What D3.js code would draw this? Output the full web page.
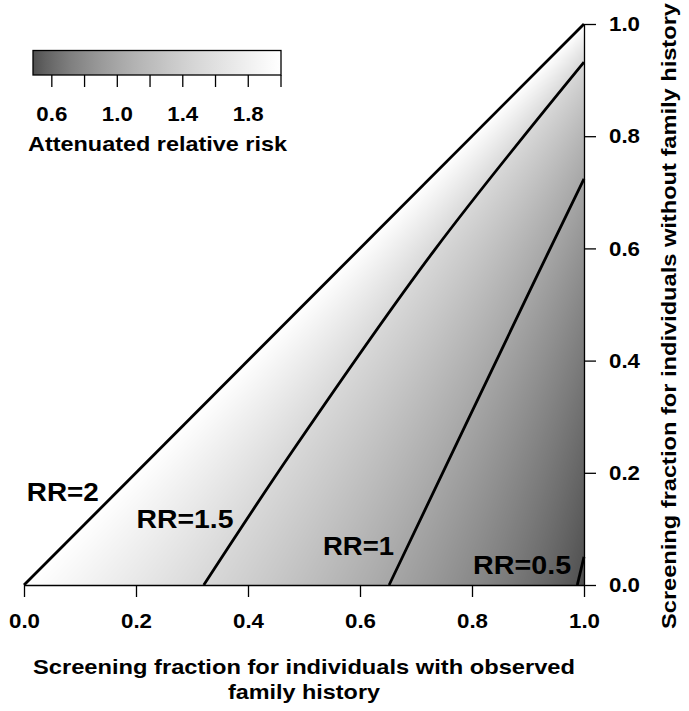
<!DOCTYPE html>
<html>
<head>
<meta charset="utf-8">
<script src="https://cdn.jsdelivr.net/npm/d3@7"></script>
<style>
  body { margin: 0; background: #fff; }
  text { font-family: "Liberation Sans", Arial, sans-serif; font-weight: bold; fill: #000; }
</style>
</head>
<body>
<svg id="chart"></svg>
<script>
const svgWidth = 689;
const svgHeight = 711;

// contour levels and the lines (x = with FH, y = without FH)
const contourLevels = [2, 1.5, 1, 0.5];
const contourRR2 = [[0, 0], [1, 1]];
const contourRR15 = [[0.321, 0], [0.481, 0.241], [0.733, 0.597], [1, 0.932]];
const contourRR1 = [[0.652, 0], [0.904, 0.526], [1, 0.724]];
const contourRR05 = [[0.988, 0], [1, 0.05]];
const contourLines = [contourRR2, contourRR15, contourRR1, contourRR05];

const rrLabels = ["RR=2", "RR=1.5", "RR=1", "RR=0.5"];
const rrLabelPos = [[0.005, 0.150], [0.201, 0.101], [0.534, 0.0535], [0.802, 0.0196]];
const rrLabelWidth = [72, 97, 71, 98];

const xTicks = [0, 0.2, 0.4, 0.6, 0.8, 1.0];
const yTicks = [0, 0.2, 0.4, 0.6, 0.8, 1.0];
const colorDomain = [0.485, 2];
const legendTicks = [0.6, 0.8, 1.0, 1.2, 1.4, 1.6, 1.8, 2.0];
const legendLabels = [0.6, 1.0, 1.4, 1.8];

const xTitle = ["Screening fraction for individuals with observed", "family history"];
const yTitle = "Screening fraction for individuals without family history";
const legendTitle = "Attenuated relative risk";

const x = d3.scaleLinear().domain([0, 1]).range([24, 584]);
const y = d3.scaleLinear().domain([0, 1]).range([585, 24]);

const gray = d3.scaleLinear()
  .domain(colorDomain)
  .range(["#4f4f4f", "#ffffff"])
  .interpolate(d3.interpolateRgb.gamma(2.2))
  .clamp(true);

let svg = d3.select("#chart")
  .attr("width", svgWidth)
  .attr("height", svgHeight);

svg.append("rect").attr("width", svgWidth).attr("height", svgHeight).attr("fill", "#fff");

// x position of a contour line at height yy (linear between read points)
const xAt = function xAt(line, yy) {
  let i = 0;
  while (i < line.length - 2 && yy > line[i + 1][1]) i++;
  let a = line[i], b = line[i + 1];
  return a[0] + (b[0] - a[0]) * (yy - a[1]) / (b[1] - a[1]);
};

// value between neighbouring contour lines
const rrAt = function rrAt(xx, yy) {
  let xs = contourLines.map(c => xAt(c, yy));
  let i = 0;
  while (i < xs.length - 2 && xx > xs[i + 1]) i++;
  let t = (xx - xs[i]) / (xs[i + 1] - xs[i]);
  return contourLevels[i] + (contourLevels[i + 1] - contourLevels[i]) * t;
};

// shaded field
const fieldW = Math.round(x(1) - x(0));
const fieldH = Math.round(y(0) - y(1));
const canvas = document.createElement("canvas");
canvas.width = fieldW;
canvas.height = fieldH;
const ctx = canvas.getContext("2d");
const img = ctx.createImageData(fieldW, fieldH);
const lut = d3.range(1025).map(k => d3.color(gray(colorDomain[0] + (colorDomain[1] - colorDomain[0]) * k / 1024)));

for (let j = 0; j < fieldH; j++) {
  let yy = y.invert(y(1) + j + 0.5);
  for (let i = 0; i < fieldW; i++) {
    let xx = x.invert(x(0) + i + 0.5);
    let p = (j * fieldW + i) * 4;
    if (xx < yy) { img.data[p + 3] = 0; continue; }
    let v = rrAt(xx, yy);
    let k = Math.max(0, Math.min(1024, Math.round((v - colorDomain[0]) / (colorDomain[1] - colorDomain[0]) * 1024)));
    let c = lut[k];
    img.data[p] = c.r; img.data[p + 1] = c.g; img.data[p + 2] = c.b; img.data[p + 3] = 255;
  }
}
ctx.putImageData(img, 0, 0);

svg.append("image")
  .attr("x", x(0))
  .attr("y", y(1))
  .attr("width", fieldW)
  .attr("height", fieldH)
  .attr("preserveAspectRatio", "none")
  .attr("href", canvas.toDataURL());

// contour lines
const line = d3.line().x(d => x(d[0])).y(d => y(d[1])).curve(d3.curveCatmullRom);
svg.append("g")
  .selectAll("path")
  .data(contourLines)
  .join("path")
  .attr("d", line)
  .attr("fill", "none")
  .attr("stroke", "#000")
  .attr("stroke-width", 2.8)
  .attr("stroke-linejoin", "round");

// contour labels
svg.append("g")
  .selectAll("text")
  .data(rrLabels)
  .join("text")
  .attr("x", (d, i) => x(rrLabelPos[i][0]))
  .attr("y", (d, i) => y(rrLabelPos[i][1]))
  .attr("font-size", 26)
  .attr("textLength", (d, i) => rrLabelWidth[i])
  .attr("lengthAdjust", "spacingAndGlyphs")
  .text(d => d);

// axes
const xAxis = svg.append("g")
  .attr("transform", `translate(0,${y(0)})`)
  .call(d3.axisBottom(x).tickValues(xTicks).tickFormat(d3.format(".1f")).tickSize(12).tickSizeOuter(0).tickPadding(16));
const yAxis = svg.append("g")
  .attr("transform", `translate(${x(1)},0)`)
  .call(d3.axisRight(y).tickValues(yTicks).tickFormat(d3.format(".1f")).tickSize(12).tickSizeOuter(0).tickPadding(13));

[xAxis, yAxis].forEach(g => {
  g.attr("font-family", null).attr("font-size", null);
  g.select(".domain").attr("stroke", "#000").attr("stroke-width", 1.3);
  g.selectAll(".tick line").attr("stroke", "#000").attr("stroke-width", 1.3);
  g.selectAll(".tick text")
    .attr("font-size", 21)
    .attr("fill", "#000")
    .attr("textLength", 31)
    .attr("lengthAdjust", "spacingAndGlyphs");
});

// axis titles
svg.append("g")
  .selectAll("text")
  .data(xTitle)
  .join("text")
  .attr("x", (x(0) + x(1)) / 2)
  .attr("y", (d, i) => 674 + i * 25)
  .attr("text-anchor", "middle")
  .attr("font-size", 21)
  .attr("textLength", (d, i) => i == 0 ? 542 : 152)
  .attr("lengthAdjust", "spacingAndGlyphs")
  .text(d => d);

svg.append("text")
  .attr("transform", "translate(676,316) rotate(-90)")
  .attr("text-anchor", "middle")
  .attr("font-size", 21)
  .attr("textLength", 626)
  .attr("lengthAdjust", "spacingAndGlyphs")
  .text(yTitle);

// legend
const lx = d3.scaleLinear().domain(colorDomain).range([33, 281]);
const grad = svg.append("defs").append("linearGradient")
  .attr("id", "legendGrad")
  .attr("x1", "0%").attr("x2", "100%").attr("y1", "0%").attr("y2", "0%");
grad.selectAll("stop")
  .data(d3.range(0, 1.0001, 0.05))
  .join("stop")
  .attr("offset", d => (d * 100) + "%")
  .attr("stop-color", d => gray(colorDomain[0] + d * (colorDomain[1] - colorDomain[0])));

const legend = svg.append("g");
legend.append("rect")
  .attr("x", lx(colorDomain[0]))
  .attr("y", 50.5)
  .attr("width", lx(colorDomain[1]) - lx(colorDomain[0]))
  .attr("height", 24.5)
  .attr("fill", "url(#legendGrad)")
  .attr("stroke", "#000")
  .attr("stroke-width", 1.3);

legend.selectAll("line")
  .data(legendTicks)
  .join("line")
  .attr("x1", d => lx(d)).attr("x2", d => lx(d))
  .attr("y1", 75).attr("y2", 87)
  .attr("stroke", "#000")
  .attr("stroke-width", 1.3);

legend.selectAll("text.lab")
  .data(legendLabels)
  .join("text")
  .attr("class", "lab")
  .attr("x", d => lx(d))
  .attr("y", 121)
  .attr("text-anchor", "middle")
  .attr("font-size", 21)
  .attr("textLength", 31)
  .attr("lengthAdjust", "spacingAndGlyphs")
  .text(d => d3.format(".1f")(d));

legend.append("text")
  .attr("x", 28)
  .attr("y", 150.5)
  .attr("font-size", 21)
  .attr("textLength", 259)
  .attr("lengthAdjust", "spacingAndGlyphs")
  .text(legendTitle);
</script>
</body>
</html>
